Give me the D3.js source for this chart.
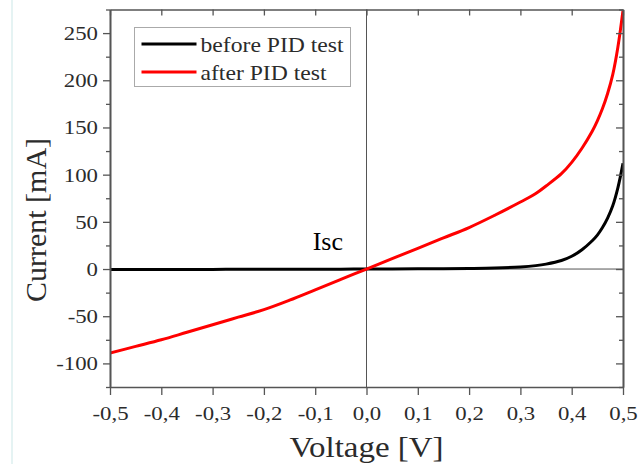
<!DOCTYPE html>
<html>
<head>
<meta charset="utf-8">
<script src="https://cdn.jsdelivr.net/npm/d3@7"></script>
<style>
  body { margin: 0; background: #fff; }
</style>
</head>
<body>
<div id="chart"></div>
<script>
// I-V curves
const voltage = [-0.5, -0.45, -0.4, -0.35, -0.3, -0.25, -0.2, -0.15, -0.1, -0.05, 0, 0.05, 0.1, 0.15, 0.2, 0.25, 0.3, 0.33, 0.35, 0.38, 0.4, 0.42, 0.44, 0.45, 0.46, 0.47, 0.48, 0.49, 0.5];
const beforePID = [-0.6, -0.5, -0.5, -0.4, -0.4, -0.3, -0.3, -0.2, -0.2, -0.1, 0, 0.1, 0.2, 0.3, 0.6, 1.1, 2.2, 3.6, 5.2, 9, 13.5, 20.5, 30, 36, 44, 54, 67, 86, 112];
const afterPID = [-89, -82, -75, -67, -59, -51, -43, -33, -22, -11, 0, 11, 22, 33, 44, 57, 71, 80, 88, 101, 113, 128, 146, 157, 170, 186, 206, 235, 274];
const seriesNames = ['before PID test', 'after PID test'];
const seriesColors = ['#000000', '#ff0000'];
const xTicks = [-0.5, -0.4, -0.3, -0.2, -0.1, 0, 0.1, 0.2, 0.3, 0.4, 0.5];
const yTicks = [-100, -50, 0, 50, 100, 150, 200, 250];
const yMinorTicks = [-125, -75, -25, 25, 75, 125, 175, 225, 275];

const width = 638;
const height = 466;
const margin = { left: 110, right: 15, top: 9.5, bottom: 79 };
const textColor = '#2b2b2b';
const axisColor = '#555';
const serif = '"Liberation Serif", "Times New Roman", Times, serif';

const svg = d3
  .select('#chart')
  .append('svg')
  .attr('width', width)
  .attr('height', height)
  .attr('font-family', serif);

// faint border artifact on the left edge
svg.append('line')
  .attr('x1', 12).attr('x2', 12)
  .attr('y1', 0).attr('y2', 464)
  .attr('stroke', '#dcefef')
  .attr('stroke-width', 1.5);

const x = d3.scaleLinear().domain([-0.5, 0.5]).range([margin.left, width - margin.right]);
const y = d3.scaleLinear().domain([-125, 275]).range([height - margin.bottom, margin.top]);

const fmtX = d => d3.format('.1f')(d).replace('.', ',').replace('\u2212', '-');
const fmtY = d => String(d);

// stretch text horizontally, keeping its anchor point
function stretch(sel, sx) {
  sel.each(function () {
    const t = d3.select(this);
    const tx = +t.attr('x') || 0;
    const ty = +t.attr('y') || 0;
    t.attr('transform', `translate(${tx},${ty}) scale(${sx},1)`).attr('x', 0).attr('y', 0);
  });
}

// zero lines
svg.append('line')
  .attr('x1', x(-0.5)).attr('x2', x(0.5))
  .attr('y1', y(0)).attr('y2', y(0))
  .attr('stroke', axisColor).attr('stroke-width', 1);
svg.append('line')
  .attr('x1', x(0)).attr('x2', x(0))
  .attr('y1', y(-125)).attr('y2', y(275))
  .attr('stroke', axisColor).attr('stroke-width', 1);

// curves
const line = d3.line()
  .x((d, i) => x(voltage[i]))
  .y(d => y(d))
  .curve(d3.curveCatmullRom.alpha(0.5));

svg.append('defs').append('clipPath').attr('id', 'clip')
  .append('rect')
  .attr('x', x(-0.5)).attr('y', y(275) - 1)
  .attr('width', x(0.5) - x(-0.5)).attr('height', y(-125) - y(275) + 1);

[beforePID, afterPID].forEach((s, i) => {
  svg.append('path')
    .datum(s)
    .attr('clip-path', 'url(#clip)')
    .attr('fill', 'none')
    .attr('stroke', seriesColors[i])
    .attr('stroke-width', 3)
    .attr('d', line);
});

function styleAxis(g) {
  g.attr('font-family', serif);
  g.select('.domain').attr('stroke', axisColor).attr('stroke-width', 1.6);
  g.selectAll('.tick line').attr('stroke', axisColor).attr('stroke-width', 1.3);
}

// bottom axis
const gx = svg.append('g')
  .attr('transform', `translate(0,${y(-125)})`)
  .call(d3.axisBottom(x).tickValues(xTicks).tickFormat(fmtX).tickSize(8).tickSizeOuter(0));
styleAxis(gx);
gx.selectAll('text')
  .attr('fill', textColor)
  .style('font-size', '19px')
  .attr('dy', null)
  .attr('y', 33);
stretch(gx.selectAll('text'), 1.2);

// top axis (ticks inward)
const gxt = svg.append('g')
  .attr('transform', `translate(0,${y(275)})`)
  .call(d3.axisBottom(x).tickValues(xTicks).tickFormat('').tickSize(6).tickSizeOuter(0));
styleAxis(gxt);

// left axis
const gy = svg.append('g')
  .attr('transform', `translate(${x(-0.5)},0)`)
  .call(d3.axisLeft(y).tickValues(yTicks).tickFormat(fmtY).tickSize(7).tickSizeOuter(0));
styleAxis(gy);
gy.selectAll('text')
  .attr('fill', textColor)
  .style('font-size', '19px')
  .attr('x', -12)
  .attr('dy', '0.34em');
stretch(gy.selectAll('text'), 1.2);

const gyMinor = svg.append('g')
  .attr('transform', `translate(${x(-0.5)},0)`)
  .call(d3.axisLeft(y).tickValues(yMinorTicks).tickFormat('').tickSize(4).tickSizeOuter(0));
styleAxis(gyMinor);

// right axis (ticks inward)
const gyr = svg.append('g')
  .attr('transform', `translate(${x(0.5)},0)`)
  .call(d3.axisLeft(y).tickValues(yTicks).tickFormat('').tickSize(7).tickSizeOuter(0));
styleAxis(gyr);
const gyrMinor = svg.append('g')
  .attr('transform', `translate(${x(0.5)},0)`)
  .call(d3.axisLeft(y).tickValues(yMinorTicks).tickFormat('').tickSize(4).tickSizeOuter(0));
styleAxis(gyrMinor);

// axis titles
svg.append('text')
  .attr('transform', `translate(46,220) rotate(-90)`)
  .attr('text-anchor', 'middle')
  .attr('fill', textColor)
  .style('font-size', '30px')
  .text('Current [mA]');

svg.append('text')
  .attr('transform', `translate(${x(0)},457) scale(1.1,1)`)
  .attr('text-anchor', 'middle')
  .attr('fill', textColor)
  .style('font-size', '30px')
  .text('Voltage [V]');

// Isc annotation
svg.append('text')
  .attr('x', 343)
  .attr('y', 250)
  .attr('text-anchor', 'end')
  .attr('fill', '#000')
  .style('font-size', '26px')
  .text('Isc');

// legend
const legend = svg.append('g').attr('transform', 'translate(134.5,27.5)');
legend.append('rect')
  .attr('width', 216)
  .attr('height', 59)
  .attr('fill', '#fff')
  .attr('stroke', '#aaa')
  .attr('stroke-width', 1);

seriesNames.forEach((name, i) => {
  const ly = 16.5 + i * 28;
  legend.append('line')
    .attr('x1', 7).attr('x2', 62)
    .attr('y1', ly).attr('y2', ly)
    .attr('stroke', seriesColors[i])
    .attr('stroke-width', 3);
  legend.append('text')
    .attr('transform', `translate(66,${ly + 7.7}) scale(1.1,1)`)
    .attr('fill', textColor)
    .style('font-size', '21.5px')
    .text(name);
});
</script>
</body>
</html>
